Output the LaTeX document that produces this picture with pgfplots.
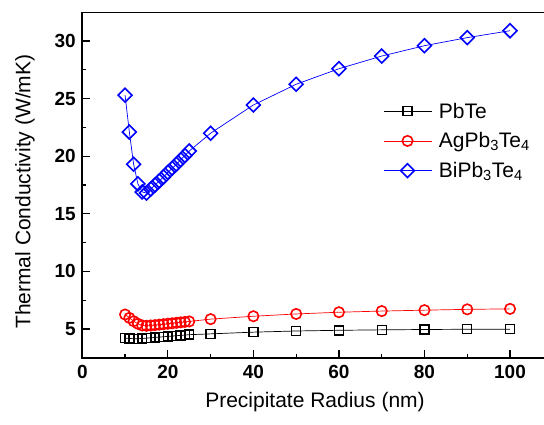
\documentclass[border=0pt]{standalone}
\usepackage{fontspec}
\setmainfont{Liberation Sans}
\usepackage{pgfplots}
\pgfplotsset{compat=1.18}
\begin{document}
\begin{tikzpicture}
\begin{axis}[
  at={(0pt,0pt)}, anchor=south west,
  scale only axis, width=470.5pt, height=345.4pt,
  xmin=0, xmax=110, ymin=2.5, ymax=32.5,
  xtick={0,20,...,100}, ytick={5,10,...,30},
  minor x tick num=1, minor y tick num=1,
  tick pos=left, tick align=inside,
  major tick length=8pt, minor tick length=4pt,
  every tick/.style={black, line width=1.2pt},
  axis line style={line width=1.6pt},
  ticklabel style={font=\fontsize{19}{22}\selectfont\bfseries},
  /pgf/number format/assume math mode=true,
  xticklabel style={yshift=-4pt},
  yticklabel style={xshift=-3pt},
  xlabel={Precipitate Radius (nm)},
  ylabel={Thermal Conductivity (W/mK)},
  every axis x label/.style={at={(axis description cs:0.4946,-0.1294)}, anchor=center, font=\fontsize{21}{24}\selectfont},
  every axis y label/.style={at={(axis description cs:-0.1218,0.4806)}, anchor=center, rotate=90, font=\fontsize{21}{24}\selectfont},
  legend style={draw=none, fill=none, at={(axis description cs:0.6327,0.750)}, anchor=north west,
    font=\fontsize{21}{24}\selectfont, row sep=9pt,
    /tikz/every odd column/.append style={column sep=5pt}},
  legend cell align=left,
  legend image code/.code={\draw[mark repeat=2,mark phase=2,#1] plot coordinates {(0pt,0pt) (24pt,0pt) (48pt,0pt)};},
]
\addplot[black, line width=0.7pt, mark=square, mark size=4.5pt, mark options={line width=1.4pt, solid}] coordinates {
(10,4.20) (11,4.17) (12,4.15) (13,4.15) (14,4.17) (15,4.20) (16,4.23) (17,4.26) (18,4.29) (19,4.32) (20,4.35) (21,4.38) (22,4.41) (23,4.44) (24,4.47) (25,4.50) (30,4.57) (40,4.72) (50,4.82) (60,4.88) (70,4.92) (80,4.95) (90,4.97) (100,4.98)};
\addlegendentry{PbTe}
\addplot[red, line width=0.7pt, mark=o, mark size=5.2pt, mark options={line width=1.6pt, solid}] coordinates {
(10,6.25) (11,5.96) (12,5.67) (13,5.45) (14,5.30) (15,5.27) (16,5.30) (17,5.33) (18,5.37) (19,5.41) (20,5.45) (21,5.49) (22,5.53) (23,5.57) (24,5.61) (25,5.65) (30,5.85) (40,6.10) (50,6.30) (60,6.45) (70,6.55) (80,6.63) (90,6.70) (100,6.74)};
\addlegendentry{AgPb\textsubscript{3}Te\textsubscript{4}}
\addplot[blue, line width=0.7pt, mark=square, mark size=4.9pt, mark options={rotate=45, line width=1.6pt, solid}] coordinates {
(10,25.3) (11,22.1) (12,19.3) (13,17.6) (14,16.9) (15,16.8) (16,17.15) (17,17.5) (18,17.85) (19,18.2) (20,18.6) (21,18.95) (22,19.3) (23,19.7) (24,20.05) (25,20.45) (30,22.0) (40,24.45) (50,26.25) (60,27.6) (70,28.7) (80,29.6) (90,30.3) (100,30.9)};
\addlegendentry{BiPb\textsubscript{3}Te\textsubscript{4}}
\end{axis}
\pgfresetboundingbox
\path[use as bounding box] (-82.3pt,-66.3pt) rectangle (461.7pt,357.7pt);
\end{tikzpicture}
\end{document}
